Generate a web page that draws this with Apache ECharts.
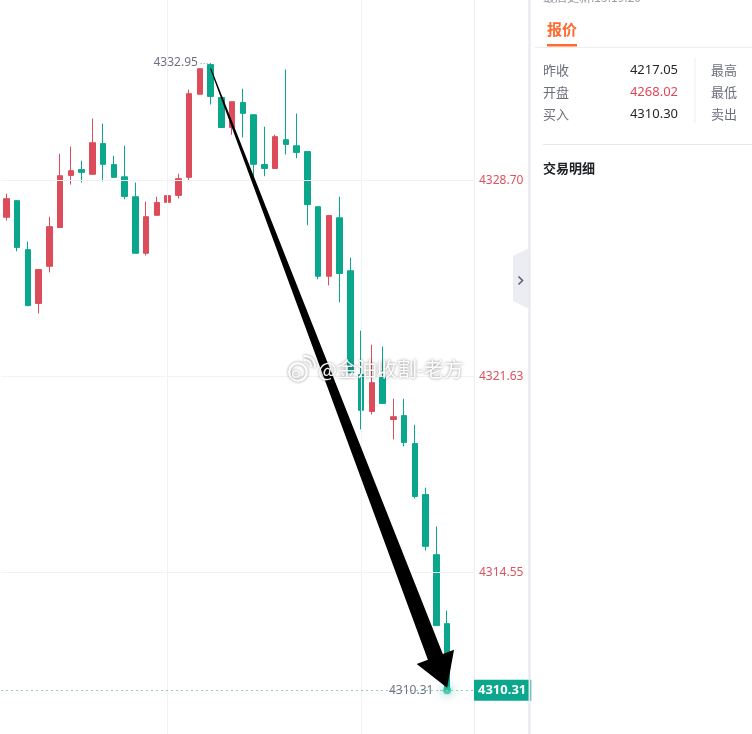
<!DOCTYPE html>
<html>
<head>
<meta charset="utf-8">
<script src="https://cdn.jsdelivr.net/npm/echarts@6/dist/echarts.min.js"></script>
<style>
html,body{margin:0;padding:0;background:#fff;}
#chart{width:752px;height:734px;}
</style>
</head>
<body>
<div id="chart"></div>
<script>
// ---- data ----
const categories = [];
for (let i = 0; i < 44; i++) { const m = 36 + i; categories.push((m < 60 ? '14:' + m : '15:' + String(m - 60).padStart(2, '0'))); }

const opens  = [4327.38,4327.98,4326.21,4324.27,4325.61,4327.01,4328.89,4329.10,4328.93,4330.04,
                4329.28,4328.84,4328.12,4326.08,4327.45,4327.92,4328.17,4328.82,4331.82,4332.89,
                4331.70,4330.62,4331.52,4331.08,4329.28,4329.14,4330.18,4329.96,4329.75,4327.76,
                4325.25,4327.36,4325.45,4321.70,4320.37,4321.63,4320.08,4320.22,4319.21,4317.37,
                4315.20,4312.71];
const closes = [4328.05,4326.29,4324.19,4325.49,4327.04,4328.88,4329.06,4329.00,4330.07,4329.29,
                4328.82,4328.13,4326.08,4327.40,4327.91,4328.16,4328.77,4331.84,4332.74,4331.74,
                4330.62,4331.55,4331.13,4329.29,4329.14,4330.29,4330.01,4329.72,4327.84,4325.25,
                4327.44,4325.35,4321.77,4320.41,4321.41,4320.66,4320.18,4319.25,4317.30,4315.50,
                4312.64,4310.31];
const lows   = [4327.26,4326.15,4324.17,4323.91,4325.39,4327.01,4328.56,4328.64,4328.93,4328.67,
                4328.82,4328.03,4326.08,4326.00,4327.45,4327.09,4328.06,4328.71,4331.82,4331.45,
                4330.62,4330.36,4330.26,4328.53,4328.86,4329.14,4329.65,4329.51,4327.09,4325.14,
                4324.92,4324.31,4321.77,4319.72,4320.26,4320.66,4319.36,4319.11,4317.23,4315.35,
                4312.64,4310.31];
const highs  = [4328.23,4328.00,4326.50,4325.49,4327.40,4329.67,4329.93,4329.42,4330.94,4330.76,
                4329.60,4329.96,4328.63,4327.94,4328.12,4328.45,4328.95,4331.99,4332.74,4332.95,
                4331.73,4331.55,4332.02,4331.08,4330.65,4330.36,4332.71,4331.12,4329.75,4327.76,
                4327.44,4328.12,4325.92,4323.29,4322.78,4322.71,4320.83,4320.83,4319.89,4317.62,
                4316.22,4313.18];

const yTicks = [4328.70, 4321.63, 4314.55];
const yMin = 4308.727, yMax = 4335.222;
const vGridIdx = [15, 33];
const highIdx = 19, highPrice = 4332.95;
const lastIdx = 41, lastPrice = 4310.31;
const arrowFrom = [19, 4332.75];
const arrowTo = [41, 4310.40];

const quoteLabels = ['昨收', '开盘', '买入'];
const quoteValues = ['4217.05', '4268.02', '4310.30'];
const quoteRightLabels = ['最高', '最低', '卖出'];

// ---- styles ----
const RED = '#dc4c5a', GREEN = '#0ba78d';
const GRID = '#f1f2f5';
const FONT = "'Noto Sans', 'Noto Sans CJK SC', sans-serif";
const CJK = "'Noto Sans CJK SC', 'Noto Sans', sans-serif";

const candleData = opens.map((o, i) => [o, closes[i], lows[i], highs[i]]);

const chart = echarts.init(document.getElementById('chart'), null, {renderer: 'canvas'});

const gridLines = yTicks.map(v => ({
  yAxis: v,
  lineStyle: {color: GRID, type: 'solid', width: 1},
  label: {show: true, position: 'end', formatter: v.toFixed(2), color: '#e0505e', fontSize: 12, fontFamily: FONT, distance: 5}
})).concat(vGridIdx.map(i => ({
  xAxis: categories[i],
  lineStyle: {color: GRID, type: 'solid', width: 1},
  label: {show: false}
})));

const rowsY = [70, 92, 114];
const panel = [];
// panel border and tab
panel.push({type: 'rect', shape: {x: 474.5, y: 0, width: 0, height: 734}, style: {stroke: '#eceef2', lineWidth: 1}, z: 1});
panel.push({type: 'rect', shape: {x: 530, y: 0, width: 222, height: 734}, style: {fill: '#fff'}, z: 5});
panel.push({type: 'rect', shape: {x: 528.5, y: 0, width: 2, height: 734}, style: {fill: '#e4e7ee'}, z: 6});
panel.push({type: 'polygon', shape: {points: [[513, 256], [529, 248], [529, 309], [513, 301]]}, style: {fill: '#ebedf2'}, z: 6});
panel.push({type: 'polyline', shape: {points: [[518.5, 276.5], [522.5, 280.5], [518.5, 284.5]]}, style: {stroke: '#5d6270', lineWidth: 1.6, fill: null}, z: 7});
// top
panel.push({type: 'text', x: 543, y: -3, style: {text: '最后更新:15:19:20', fill: '#999ca6', font: '12px ' + CJK, textAlign: 'left', textVerticalAlign: 'middle', verticalAlign: 'middle'}, z: 7});
panel.push({type: 'text', x: 547, y: 29, style: {text: '报价', fill: '#ff6a2e', font: 'bold 15px ' + CJK, textAlign: 'left', textVerticalAlign: 'middle', verticalAlign: 'middle'}, z: 7});
panel.push({type: 'rect', shape: {x: 547, y: 44, width: 30, height: 2.5}, style: {fill: '#ff6a2e'}, z: 7});
panel.push({type: 'rect', shape: {x: 535, y: 47, width: 217, height: 1}, style: {fill: '#eceef2'}, z: 7});
panel.push({type: 'rect', shape: {x: 694.5, y: 58, width: 1, height: 65}, style: {fill: '#eceef2'}, z: 7});
panel.push({type: 'rect', shape: {x: 543, y: 144, width: 209, height: 1}, style: {fill: '#e6e8ee'}, z: 7});
quoteLabels.forEach((t, i) => {
  panel.push({type: 'text', x: 543, y: rowsY[i], style: {text: t, fill: '#6b6f7a', font: '13px ' + CJK, textAlign: 'left', textVerticalAlign: 'middle', verticalAlign: 'middle'}, z: 7});
  panel.push({type: 'text', x: 678, y: rowsY[i], style: {text: quoteValues[i], fill: i === 1 ? '#e0485a' : '#25272c', font: '13px ' + FONT, textAlign: 'right', align: 'right', textVerticalAlign: 'middle', verticalAlign: 'middle'}, z: 7});
  panel.push({type: 'text', x: 711, y: rowsY[i], style: {text: quoteRightLabels[i], fill: '#6b6f7a', font: '13px ' + CJK, textAlign: 'left', textVerticalAlign: 'middle', verticalAlign: 'middle'}, z: 7});
});
panel.push({type: 'text', x: 543, y: 168, style: {text: '交易明细', fill: '#1d1f24', font: 'bold 13px ' + CJK, textAlign: 'left', textVerticalAlign: 'middle', verticalAlign: 'middle'}, z: 7});

// watermark
const wmShadow = {shadowBlur: 3, shadowColor: 'rgba(0,0,0,0.45)'};
panel.push({type: 'ring', shape: {cx: 298, cy: 372, r: 10, r0: 7.5}, style: Object.assign({fill: 'rgba(255,255,255,0.95)'}, wmShadow), z: 20});
panel.push({type: 'ring', shape: {cx: 296, cy: 374, r: 4, r0: 2.5}, style: Object.assign({fill: 'rgba(255,255,255,0.95)'}, wmShadow), z: 20});
panel.push({type: 'arc', shape: {cx: 305, cy: 366, r: 6, startAngle: -Math.PI * 0.55, endAngle: Math.PI * 0.05}, style: Object.assign({stroke: 'rgba(255,255,255,0.95)', lineWidth: 2, fill: null}, wmShadow), z: 20});
panel.push({type: 'arc', shape: {cx: 305, cy: 366, r: 10, startAngle: -Math.PI * 0.55, endAngle: Math.PI * 0.05}, style: Object.assign({stroke: 'rgba(255,255,255,0.95)', lineWidth: 2, fill: null}, wmShadow), z: 20});
panel.push({type: 'text', x: 318, y: 369, style: {text: '@金油收割-老方', fill: 'rgba(255,255,255,0.95)', font: '20px ' + CJK, textAlign: 'left', textVerticalAlign: 'middle', verticalAlign: 'middle', textShadowBlur: 3, textShadowColor: 'rgba(0,0,0,0.5)', shadowBlur: 3, shadowColor: 'rgba(0,0,0,0.5)'}, z: 20});

const option = {
  animation: false,
  backgroundColor: '#ffffff',
  grid: {left: 1, right: 278, top: 0, bottom: 0, containLabel: false},
  xAxis: {type: 'category', data: categories, boundaryGap: true, show: false},
  yAxis: {type: 'value', position: 'right', min: yMin, max: yMax, scale: true,
          axisLine: {show: false}, axisTick: {show: false}, axisLabel: {show: false}, splitLine: {show: false}},
  series: [
    {
      type: 'line', data: [], silent: true, z: 1,
      markLine: {silent: true, symbol: ['none', 'none'], animation: false, data: gridLines}
    },
    {
      type: 'candlestick', data: candleData, barWidth: 6, z: 3,
      itemStyle: {color: RED, color0: GREEN, borderColor: RED, borderColor0: GREEN, borderWidth: 1},
      markLine: {
        silent: true, symbol: ['none', 'none'], animation: false,
        data: [
          {yAxis: lastPrice, lineStyle: {color: '#86d3c3', type: [2, 3], width: 1},
           label: {show: true, position: 'end', distance: 0, formatter: lastPrice.toFixed(2), color: '#fff', fontWeight: 'bold', fontSize: 13, fontFamily: FONT, backgroundColor: GREEN, padding: [4, 5, 4, 4]}},
          [{coord: [categories[highIdx], highPrice], lineStyle: {color: '#9a9ea8', type: [1, 2], width: 1},
            label: {show: true, position: 'end', distance: 2, formatter: highPrice.toFixed(2), color: '#6e7380', fontSize: 12, fontFamily: FONT}},
           {coord: [categories[highIdx - 1], highPrice]}],
          [{coord: [categories[lastIdx], lastPrice], lineStyle: {color: '#a8acb5', type: [1, 2], width: 1},
            label: {show: true, position: 'end', distance: 3, formatter: lastPrice.toFixed(2), color: '#6e7380', fontSize: 12, fontFamily: FONT}},
           {coord: [categories[lastIdx - 1], lastPrice]}]
        ]
      }
    },
    {
      type: 'scatter', z: 4, silent: true,
      data: [[categories[lastIdx], lastPrice]],
      symbolSize: 8,
      itemStyle: {color: '#2bc0a4', shadowBlur: 10, shadowColor: 'rgba(11,167,141,0.9)', opacity: 0.8}
    },
    {
      type: 'custom', z: 10, silent: true, clip: false,
      data: [[arrowFrom[0], arrowFrom[1], arrowTo[0], arrowTo[1]]],
      renderItem: function (params, api) {
        const p0 = api.coord([api.value(0), api.value(1)]);
        const p1 = api.coord([api.value(2), api.value(3)]);
        const dx = p1[0] - p0[0], dy = p1[1] - p0[1];
        const L = Math.sqrt(dx * dx + dy * dy);
        const ux = dx / L, uy = dy / L;
        const nx = -uy, ny = ux;
        const hl = 33, hw = 20, w0 = 0.5, w1 = 8;
        const bx = p1[0] - ux * hl, by = p1[1] - uy * hl;
        const pts = [
          [p0[0] + nx * w0, p0[1] + ny * w0],
          [bx + nx * w1, by + ny * w1],
          [bx + nx * hw, by + ny * hw],
          [p1[0], p1[1]],
          [bx - nx * hw, by - ny * hw],
          [bx - nx * w1, by - ny * w1],
          [p0[0] - nx * w0, p0[1] - ny * w0]
        ];
        return {type: 'polygon', shape: {points: pts}, style: {fill: '#000'}};
      }
    }
  ],
  graphic: panel
};
chart.setOption(option);
</script>
</body>
</html>
